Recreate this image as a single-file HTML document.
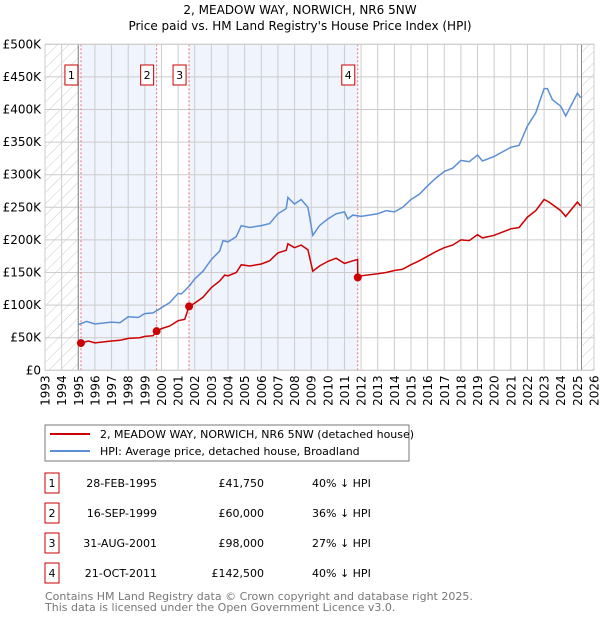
<!DOCTYPE html>
<html><head><meta charset="utf-8"><style>
body{margin:0;background:#fff;font-family:"DejaVu Sans","Liberation Sans",sans-serif;}
svg text{font-family:"DejaVu Sans","Liberation Sans",sans-serif;}
</style></head><body>
<svg id="c" width="600" height="620" xmlns="http://www.w3.org/2000/svg">
<defs><pattern id="hatch" width="8" height="8" patternUnits="userSpaceOnUse" patternTransform="rotate(45)"><line x1="0" y1="0" x2="0" y2="8" stroke="#ccc" stroke-width="1"/></pattern></defs>
<text x="300" y="14" text-anchor="middle" font-size="12">2, MEADOW WAY, NORWICH, NR6 5NW</text>
<text x="300" y="30" text-anchor="middle" font-size="12">Price paid vs. HM Land Registry's House Price Index (HPI)</text>
<g id="plot"></g>
<rect x="45" y="425" width="364" height="36" fill="none" stroke="#777"/>
<line x1="50" y1="434" x2="90" y2="434" stroke="#cc0000" stroke-width="2"/>
<text x="100" y="438" font-size="11">2, MEADOW WAY, NORWICH, NR6 5NW (detached house)</text>
<line x1="50" y1="451" x2="90" y2="451" stroke="#5b8fd6" stroke-width="2"/>
<text x="100" y="455" font-size="11">HPI: Average price, detached house, Broadland</text>
<g id="table" font-size="11"></g>
<text x="45" y="600" font-size="11" fill="#777">Contains HM Land Registry data © Crown copyright and database right 2025.</text>
<text x="45" y="611" font-size="11" fill="#777">This data is licensed under the Open Government Licence v3.0.</text>
</svg>
<script>
const hpiYears=[1995.0,1995.5,1996,1997,1997.5,1998,1998.6,1999,1999.5,2000,2000.5,2001,2001.2,2001.7,2002,2002.5,2003,2003.5,2003.7,2004,2004.5,2004.8,2005.3,2006,2006.5,2007,2007.5,2007.6,2008,2008.4,2008.8,2009.1,2009.5,2010,2010.5,2011,2011.2,2011.5,2012,2013,2013.5,2014,2014.5,2015,2015.5,2016,2016.5,2017,2017.5,2018,2018.5,2019,2019.3,2020,2020.5,2021,2021.5,2022,2022.5,2023,2023.2,2023.5,2024,2024.3,2025,2025.2];
const hpiValues=[70,75,71,74,73,82,81,87,88,96,104,118,117,130,140,152,170,183,199,197,205,222,219,222,225,240,248,265,255,262,250,207,222,232,240,243,232,238,236,240,245,243,250,262,270,283,295,305,310,322,320,330,321,328,335,342,345,375,395,432,432,415,405,390,425,418];
const propYears=[1995.16,1995.6,1996,1997,1997.5,1998,1998.7,1999,1999.5,1999.71,2000,2000.5,2001,2001.4,2001.66,2002,2002.5,2003,2003.5,2003.8,2004,2004.5,2004.8,2005.3,2006,2006.5,2007,2007.5,2007.6,2008,2008.4,2008.8,2009.1,2009.5,2010,2010.5,2011,2011.5,2011.79,2011.8,2012,2013,2013.5,2014,2014.5,2015,2015.5,2016,2016.5,2017,2017.5,2018,2018.5,2019,2019.3,2020,2020.5,2021,2021.5,2022,2022.5,2023,2023.3,2024,2024.3,2025,2025.2];
const propValues=[41.75,45,42,45,46,49,50,52,53,60,64,68,76,78,98,103,112,127,137,146,145,150,162,160,163,168,180,184,194,188,192,185,152,160,167,172,164,168,170,142.5,145,148,150,153,155,162,168,175,182,188,192,200,199,208,203,207,212,217,219,235,245,262,258,245,236,258,252];
const saleYears=[1995.16,1999.71,2001.66,2011.8];
const saleValues=[41.75,60,98,142.5];
const saleLabels=["1","2","3","4"];
const saleDates=["28-FEB-1995","16-SEP-1999","31-AUG-2001","21-OCT-2011"];
const salePrices=["£41,750","£60,000","£98,000","£142,500"];
const saleDiffs=["40% ↓ HPI","36% ↓ HPI","27% ↓ HPI","40% ↓ HPI"];
const yTicks=[0,50,100,150,200,250,300,350,400,450,500];
const yTickLabels=["£0","£50K","£100K","£150K","£200K","£250K","£300K","£350K","£400K","£450K","£500K"];
const xTicks=[1993,1994,1995,1996,1997,1998,1999,2000,2001,2002,2003,2004,2005,2006,2007,2008,2009,2010,2011,2012,2013,2014,2015,2016,2017,2018,2019,2020,2021,2022,2023,2024,2025,2026];
const X0=45,X1=594,Y0=370.3,Y1=44.3;
const xs=y=>X0+(y-1993)/33*(X1-X0);
const ys=v=>Y0-v/500*(Y0-Y1);
const NS="http://www.w3.org/2000/svg";
const g=document.getElementById('plot');
function mk(tag,attrs,parent){const e=document.createElementNS(NS,tag);for(const k in attrs)e.setAttribute(k,attrs[k]);(parent||g).appendChild(e);return e;}
let e;
e=mk('rect',{x:X0,y:Y1,width:X1-X0,height:Y0-Y1,fill:'#fff'});


[[0,1],[2,3]].forEach(p=>{e=mk('rect',{x:xs(saleYears[p[0]]),y:Y1,width:xs(saleYears[p[1]])-xs(saleYears[p[0]]),height:Y0-Y1,fill:'#f0f4fd'});

});
e=mk('rect',{x:X0,y:Y1,width:xs(1995)-X0,height:Y0-Y1,fill:'url(#hatch)'});


e=mk('rect',{x:xs(2025.25),y:Y1,width:X1-xs(2025.25),height:Y0-Y1,fill:'url(#hatch)'});


xTicks.forEach(t=>{e=mk('line',{x1:xs(t),x2:xs(t),y1:Y1,y2:Y0,stroke:'#ccc'});


const tx=mk('text',{x:0,y:0,'font-size':12,'text-anchor':'end',transform:`translate(${xs(t)+4.5},${Y0+5}) rotate(-90)`});tx.textContent=t;

});
yTicks.forEach((t,i)=>{e=mk('line',{x1:X0,x2:X1,y1:ys(t),y2:ys(t),stroke:'#ccc'});


const tx=mk('text',{x:X0-4,y:ys(t)+4,'font-size':12,'text-anchor':'end'});tx.textContent=yTickLabels[i];

});
e=mk('line',{x1:xs(1995),x2:xs(1995),y1:Y1,y2:Y0,stroke:'#888'});


e=mk('line',{x1:xs(2025.25),x2:xs(2025.25),y1:Y1,y2:Y0,stroke:'#888'});


saleYears.forEach((y,i)=>{e=mk('line',{x1:xs(y),x2:xs(y),y1:Y1,y2:Y0,stroke:'#f07070','stroke-dasharray':'2,2'});


const bx=xs(y)-16,by=65;
e=mk('rect',{x:bx,y:by,width:13,height:20,fill:'#fff',stroke:'#cc0000'});


const tx=mk('text',{x:bx+6.5,y:by+14,'font-size':11,'text-anchor':'middle'});tx.textContent=saleLabels[i];

});
const pts=(xa,va)=>xa.map((y,i)=>xs(y).toFixed(1)+','+ys(va[i]).toFixed(1)).join(' ');
e=mk('polyline',{points:pts(hpiYears,hpiValues),fill:'none',stroke:'#5b8fd6','stroke-width':1.5});


e=mk('polyline',{points:pts(propYears,propValues),fill:'none',stroke:'#cc0000','stroke-width':1.5});


saleYears.forEach((y,i)=>{e=mk('circle',{cx:xs(y),cy:ys(saleValues[i]),r:4,fill:'#cc0000'});

});
e=mk('rect',{x:X0,y:Y1,width:X1-X0,height:Y0-Y1,fill:'none',stroke:'#ccc'});


const tb=document.getElementById('table');
const rowY=[483,513,543,573];
saleLabels.forEach((l,i)=>{const cy=rowY[i];
e=mk('rect',{x:45,y:cy-10,width:14,height:20,fill:'#fff',stroke:'#cc0000'},tb);


let t=mk('text',{x:52,y:cy+4,'text-anchor':'middle'},tb);t.textContent=l;


t=mk('text',{x:157,y:cy+4,'text-anchor':'end'},tb);t.textContent=saleDates[i];


t=mk('text',{x:264,y:cy+4,'text-anchor':'end'},tb);t.textContent=salePrices[i];


t=mk('text',{x:312,y:cy+4},tb);t.textContent=saleDiffs[i];

});
</script>
</body></html>
